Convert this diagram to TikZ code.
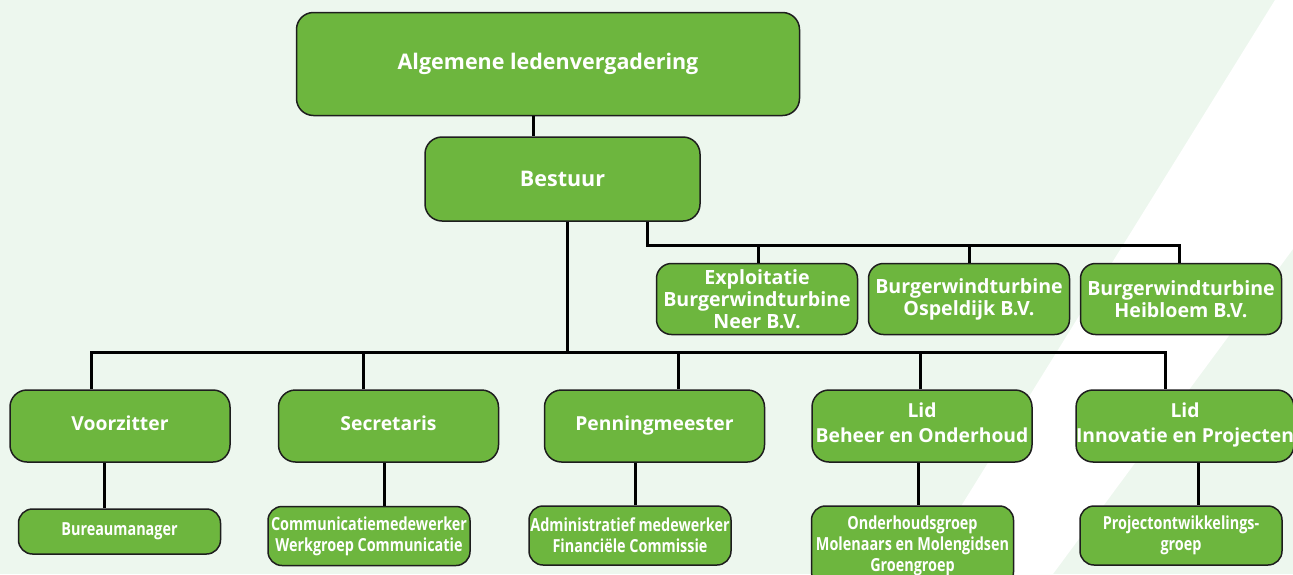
\documentclass[tikz,border=0pt]{standalone}
\usepackage{fontspec}
\setmainfont{Open Sans}
\newfontfamily\condfont[FakeStretch=0.8]{Open Sans}
\definecolor{boxgreen}{RGB}{109,182,62}
\definecolor{bggreen}{RGB}{237,247,238}
\definecolor{boxline}{RGB}{30,30,30}
\tikzset{
  unit/.style={draw=boxline, line width=1.5pt, fill=boxgreen, text=white,
    rounded corners=17pt, align=center, inner sep=0pt,
    font=\bfseries\fontsize{19.3}{25}\selectfont},
  head/.style={unit, font=\bfseries\fontsize{21.5}{26}\selectfont},
  firm/.style={unit, rounded corners=15pt, minimum width=201pt, minimum height=71pt,
    font=\bfseries\fontsize{19.6}{22}\selectfont},
  post/.style={unit, minimum width=220pt, minimum height=72pt, text depth=6pt},
  subunit/.style={unit, rounded corners=14pt, minimum width=202pt,
    font=\condfont\bfseries\fontsize{18}{21}\selectfont},
  link/.style={line width=3pt, black}
}
\begin{document}
\begin{tikzpicture}[x=1pt, y=-1pt]
  \useasboundingbox (0,0) rectangle (1293,574);
  % background
  \fill[bggreen] (0,0) rectangle (1293,574);
  \fill[white] (1275,0) -- (1293,0) -- (1293,249) -- (1053,574) -- (919,574) -- cycle;
  \coordinate (bar) at (0,352);
  \coordinate (firmbar) at (0,245);
  % top
  \node[head, minimum width=503pt, minimum height=103pt] (alv) at (548,64) {Algemene ledenvergadering};
  \node[head, minimum width=275pt, minimum height=84pt] (bestuur) at (562.5,179) {Bestuur};
  % companies
  \node[firm] (expl) at (757,299) {Exploitatie\\Burgerwindturbine\\Neer B.V.};
  \node[firm] (osp) at (969,299) {Burgerwindturbine\\Ospeldijk B.V.};
  \node[firm] (heib) at (1181,299) {Burgerwindturbine\\Heibloem B.V.};
  % board members
  \node[post] (voor) at (120,426) {Voorzitter};
  \node[post] (secr) at (388.5,426) {Secretaris};
  \node[post] (penn) at (654.5,426) {Penningmeester};
  \node[post] (beheer) at (922,426) {Lid\\Beheer en Onderhoud};
  \node[post, minimum width=215pt] (innov) at (1185,426) {Lid\\Innovatie en Projecten};
  % groups
  \node[subunit, minimum height=45pt] (bur) at (119.5,531.5) {Bureaumanager};
  \node[subunit, minimum height=59pt] (comm) at (369,536) {Communicatiemedewerker\\Werkgroep Communicatie};
  \node[subunit, minimum height=59pt] (adm) at (630,535.5) {Administratief medewerker\\Financiële Commissie};
  \node[subunit, minimum height=80pt] (onder) at (912.5,546) {Onderhoudsgroep\\Molenaars en Molengidsen\\Groengroep};
  \node[subunit, minimum height=59pt] (proj) at (1181,535.5) {Projectontwikkelings-\\groep};
  \begin{scope}[link]
    \draw ([xshift=-14.5pt]alv.south) -- ([xshift=-14.5pt]alv.south |- bestuur.north);
    \draw ([xshift=4.5pt]bestuur.south) -- ([xshift=4.5pt]bestuur.south |- bar);
    \draw ([xshift=-29pt]voor.north) |- ([xshift=-20pt]innov.north |- bar) -- ([xshift=-20pt]innov.north);
    \draw ([xshift=-25pt]secr.north) -- ([xshift=-25pt]secr.north |- bar);
    \draw ([xshift=24pt]penn.north) -- ([xshift=24pt]penn.north |- bar);
    \draw ([xshift=-2pt]beheer.north) -- ([xshift=-2pt]beheer.north |- bar);
    \draw ([xshift=85pt]bestuur.south) |- ([xshift=-2pt]heib.north |- firmbar) -- ([xshift=-2pt]heib.north);
    \draw ([xshift=1.5pt]expl.north) -- ([xshift=1.5pt]expl.north |- firmbar);
    \draw (osp.north) -- (osp.north |- firmbar);
    \draw ([xshift=-15pt]bur.north) -- ([xshift=-15pt]bur.north |- voor.south);
    \draw ([xshift=15pt]comm.north) -- ([xshift=15pt]comm.north |- secr.south);
    \draw ([xshift=5pt]adm.north) -- ([xshift=5pt]adm.north |- penn.south);
    \draw ([xshift=5.5pt]onder.north) -- ([xshift=5.5pt]onder.north |- beheer.south);
    \draw ([xshift=17pt]proj.north) -- ([xshift=17pt]proj.north |- innov.south);
  \end{scope}
\end{tikzpicture}
\end{document}
